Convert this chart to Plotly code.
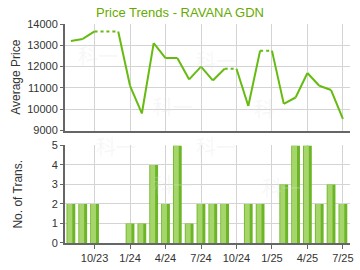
import plotly.graph_objects as go

months = ["8/23","9/23","10/23","11/23","12/23","1/24","2/24","3/24","4/24","5/24","6/24","7/24",
          "8/24","9/24","10/24","11/24","12/24","1/25","2/25","3/25","4/25","5/25","6/25","7/25"]
prices = [13200, 13300, 13650, None, None, 11100, 9800, 13100, 12400, 12400, 11400, 12000,
          11350, 11900, None, 10150, 12750, None, 10250, 10550, 11700, 11100, 10900, 9550]
trans = [2, 2, 2, 0, 0, 1, 1, 4, 2, 5, 1, 2, 2, 2, 0, 2, 2, 0, 3, 5, 5, 2, 3, 2]
tick_labels = ["10/23", "1/24", "4/24", "7/24", "10/24", "1/25", "4/25", "7/25"]

idx = list(range(len(months)))
tick_idx = [months.index(t) for t in tick_labels]

# carry forward for missing months
carried = []
last = None
for p in prices:
    if p is not None:
        last = p
    carried.append(last)

solid_x, solid_y, dot_x, dot_y = [], [], [], []
for i in range(len(idx) - 1):
    if prices[i + 1] is not None:
        solid_x += [idx[i], idx[i + 1], None]
        solid_y += [carried[i], carried[i + 1], None]
    else:
        dot_x += [idx[i], idx[i + 1], None]
        dot_y += [carried[i], carried[i + 1], None]

GREEN = "#66bb11"
fig = go.Figure()
fig.add_trace(go.Scatter(x=solid_x, y=solid_y, mode="lines",
                         line=dict(color=GREEN, width=2), xaxis="x", yaxis="y",
                         hoverinfo="skip", showlegend=False))
fig.add_trace(go.Scatter(x=dot_x, y=dot_y, mode="lines",
                         line=dict(color=GREEN, width=2, dash="dot"), xaxis="x", yaxis="y",
                         hoverinfo="skip", showlegend=False))
fig.add_trace(go.Bar(x=idx, y=trans, width=0.74, marker=dict(color="#6cb526", line=dict(width=0)),
                     xaxis="x2", yaxis="y2", showlegend=False))
fig.add_trace(go.Bar(x=idx, y=trans, width=0.42, offset=-0.3,
                     marker=dict(color="#a6d56c", line=dict(width=0)),
                     xaxis="x2", yaxis="y2", showlegend=False))

font = "Liberation Sans, Arial, sans-serif"
grid = "#d4d4d4"
axis_line = "#666666"
xcommon = dict(range=[-0.5, 23.6], tickmode="array", tickvals=tick_idx, showgrid=True,
               gridcolor=grid, gridwidth=1, zeroline=False, showline=True, linecolor=axis_line,
               linewidth=2)
fig.update_layout(
    width=360, height=270, margin=dict(l=65, r=6, t=24, b=26),
    paper_bgcolor="white", plot_bgcolor="white", barmode="overlay",
    font=dict(family=font, size=11, color="#333333"),
    title=dict(text="Price Trends - RAVANA GDN", x=0.5, xanchor="center", y=0.97, yanchor="top",
               font=dict(family=font, size=13, color="#66aa00")),
    xaxis=dict(**xcommon, domain=[0, 1], anchor="y", ticktext=[""] * len(tick_idx), ticks=""),
    yaxis=dict(domain=[0.5136, 1.0], range=[9000, 14000], dtick=1000, tickformat="d",
               showgrid=True, gridcolor=grid,
               zeroline=False, showline=True, linecolor=axis_line, linewidth=2, ticks="outside",
               ticklen=3, tickcolor=axis_line,
               title=dict(text="Average Price", font=dict(size=12, color="#333333"), standoff=4)),
    xaxis2=dict(**xcommon, domain=[0, 1], anchor="y2", ticktext=tick_labels, ticks="outside",
                ticklen=4, tickcolor=axis_line),
    yaxis2=dict(domain=[0, 0.4455], range=[0, 5], dtick=1, showgrid=True, gridcolor=grid,
                zeroline=False, showline=True, linecolor=axis_line, linewidth=2, ticks="outside",
                ticklen=3, tickcolor=axis_line,
                title=dict(text="No. of Trans.", font=dict(size=12, color="#333333"), standoff=26)),
)

wm = [(0.04, 0.93), (0.3, 0.7), (0.53, 0.91), (0.81, 0.69), (0.1, 0.44), (0.3, 0.19), (0.53, 0.44), (0.84, 0.18)]
for x, y in wm:
    fig.add_annotation(text="科一", x=x, y=y, xref="paper", yref="paper", showarrow=False,
                       font=dict(family="Noto Sans CJK SC", size=20, color="rgba(225,225,225,0.25)"))

fig.write_html("out.html")
